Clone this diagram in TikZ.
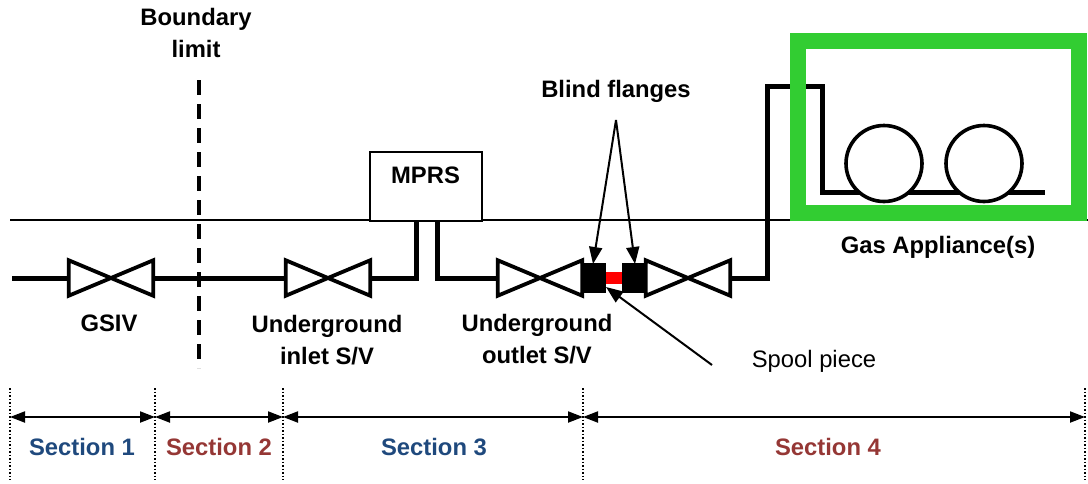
\documentclass[tikz,border=0pt]{standalone}
\usepackage{fontspec}
\setmainfont{Liberation Sans}
\usetikzlibrary{arrows.meta}
\definecolor{SecBlue}{RGB}{31,73,125}
\definecolor{SecRed}{RGB}{149,55,53}
\definecolor{BoxGreen}{RGB}{50,205,50}
\tikzset{
  valve/.style={minimum width=84,minimum height=35,inner sep=0},
  flange/.style={fill=black,minimum width=25,minimum height=30,inner sep=0},
  pipe/.style={line width=5,line join=miter},
  label/.style={font=\fontsize{23.8}{32}\selectfont\bfseries,align=center},
  section/.style={label,text=#1},
  span/.style={line width=2,{Triangle[length=15,width=11]}-{Triangle[length=15,width=11]}},
  pointer/.style={line width=2,-{Triangle[length=17,width=13]}}
}
\begin{document}
\begin{tikzpicture}[x=1pt,y=-1pt]
\useasboundingbox (0,0) rectangle (1088,483);

% ground line
\coordinate (G1) at (10,220);
\coordinate (G2) at (1088,220);
\draw [line width=1.2](G1)--(G2);

% boundary limit
\coordinate (B1) at (199,80);
\coordinate (B2) at (199,368);
\draw [line width=3.6,dash pattern=on 15 off 9](B1)--(B2);

\node[valve] (gsiv) at (111,278) {};
\node[valve] (inlet) at (328,278) {};
\node[valve] (outlet) at (540,278) {};
\node[valve] (last) at (688,278) {};
\node[flange] (fl1) at (593.5,278) {};
\node[flange] (fl2) at (634.5,278) {};
\node[draw,fill=white,line width=2,minimum width=112,minimum height=69,inner sep=0] (mprs) at (425.5,186) {};

% pipe coordinates
\coordinate (P0) at (12,278);
\coordinate (M1) at (416,220);
\coordinate (M2) at (437,220);
\coordinate (T1) at (767,86);
\coordinate (T2) at (822,86);
\coordinate (T3) at (822,192);
\coordinate (P9) at (1045,192);

\draw [pipe](P0)--(gsiv.west);
\draw [pipe](gsiv.east)--(inlet.west);
\draw [pipe](inlet.east)-|(M1);
\draw [pipe](M2)|-(outlet.west);
\draw [pipe](last.east)-|(T1)--(T2)--(T3)--(P9);
\draw [line width=12,red](fl1.east)--(fl2.west);

% valves
\foreach \v in {gsiv,inlet,outlet,last}{
  \draw[line width=3.8,fill=white] (\v.north west)--(\v.south east)--(\v.north east)--(\v.south west)--cycle;
}
\node[flange] at (fl1) {};
\node[flange] at (fl2) {};

% appliance
\foreach \x/\n in {884/appa,984/appb}{
  \node[draw,circle,fill=white,line width=3.6,minimum size=76,inner sep=0] (\n) at (\x,163.5) {};
}
\coordinate (R1) at (798,41);
\coordinate (R2) at (1079,213);
\draw[BoxGreen,line width=16] (R1) rectangle (R2);

% labels
\node[label] (boundary) at (196,33) {Boundary\\limit};
\node[label] (mprstext) at (mprs.center |- 0,175) {MPRS};
\node[label] (gsivtext) at (109,323) {GSIV};
\node[label] (inlettext) at (327,340) {Underground\\inlet S/V};
\node[label] (outlettext) at (537,339) {Underground\\outlet S/V};
\node[label] (blind) at (616,91) {Blind flanges};
\node[label] (gas) at (938,247) {Gas Appliance(s)};
\node[font=\fontsize{23.8}{26}\selectfont] (spool) at (814,361) {Spool piece};

% pointers
\coordinate (A0) at (616,120);
\coordinate (A1) at (593,264);
\coordinate (A2) at (635,264);
\coordinate (A3) at (712,365);
\coordinate (A4) at (606,287);
\draw[pointer] (A0)--(A1);
\draw[pointer] (A0)--(A2);
\draw[pointer] (A3)--(A4);

% sections
\foreach \x/\n in {10/a,155/b,283/c,583/d,1085/e}{
  \coordinate (\n) at (\x,417);
  \draw[line width=1.5,dotted] (\x,388)--(\x,480);
}
\draw[span] (a)--(b);
\draw[span] (b)--(c);
\draw[span] (c)--(d);
\draw[span] (d)--(e);
\node[section=SecBlue] (sec1) at (82,447) {Section 1};
\node[section=SecRed] (sec2) at (219,447) {Section 2};
\node[section=SecBlue] (sec3) at (434,447) {Section 3};
\node[section=SecRed] (sec4) at (828,447) {Section 4};

\end{tikzpicture}
\end{document}
